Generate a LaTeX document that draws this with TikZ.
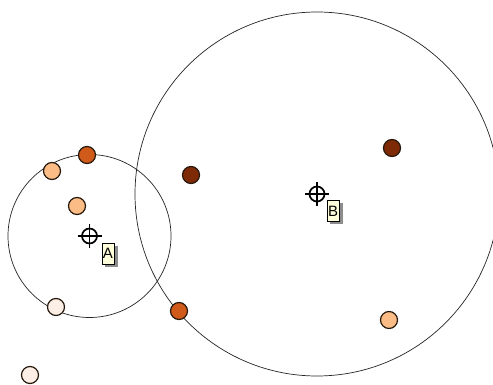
\documentclass[tikz,border=0pt]{standalone}
\usepackage{fontspec}
\setsansfont{Liberation Sans}
\usetikzlibrary{shadows}
\definecolor{darkbrown}{HTML}{7F2A06}
\definecolor{burnt}{HTML}{D05A1A}
\definecolor{peach}{HTML}{FBBC86}
\definecolor{blush}{HTML}{FDEEE6}
\definecolor{tagyellow}{HTML}{FFFFDC}
\tikzset{
  dot/.style={circle, draw=black!80!brown, line width=1.2pt, minimum size=17pt, inner sep=0pt},
  tag/.style={draw=black, line width=0.5pt, fill=tagyellow, inner sep=0pt,
    minimum width=12.5pt, minimum height=21pt, font=\fontsize{15}{15}\sffamily,
    drop shadow={shadow xshift=3.5pt, shadow yshift=-2.5pt, fill=black!45, opacity=1}},
  cross/.style={line width=1.7pt}
}
\begin{document}
\begin{tikzpicture}[x=1pt, y=-1pt]
\useasboundingbox[fill=white] (0,0) rectangle (493,385);

% cluster circles
\coordinate (ca) at (89.5,236);
\coordinate (cb) at (317,194);
\draw[black!85, line width=0.7pt] (ca) circle (81.5);
\draw[black!85, line width=0.7pt] (cb) circle (182);

% data points
\node[dot, fill=burnt] (p1) at (87,155) {};
\node[dot, fill=peach] (p2) at (52,171) {};
\node[dot, fill=peach] (p3) at (77,206) {};
\node[dot, fill=darkbrown] (p4) at (191,175) {};
\node[dot, fill=darkbrown] (p5) at (392,148) {};
\node[dot, fill=burnt] (p6) at (179,311) {};
\node[dot, fill=peach] (p7) at (389,320) {};
\node[dot, fill=blush] (p8) at (56,307) {};
\node[dot, fill=blush] (p9) at (30,375) {};

% centroids
\foreach \c in {ca,cb}{
  \draw[cross] (\c) circle (7.5);
  \draw[cross] ([xshift=-12pt]\c) -- ([xshift=12pt]\c);
  \draw[cross] ([yshift=-12pt]\c) -- ([yshift=12pt]\c);
}

% labels
\node[tag] (la) at (108,253.5) {A};
\node[tag] (lb) at (333,211) {B};
\end{tikzpicture}
\end{document}
